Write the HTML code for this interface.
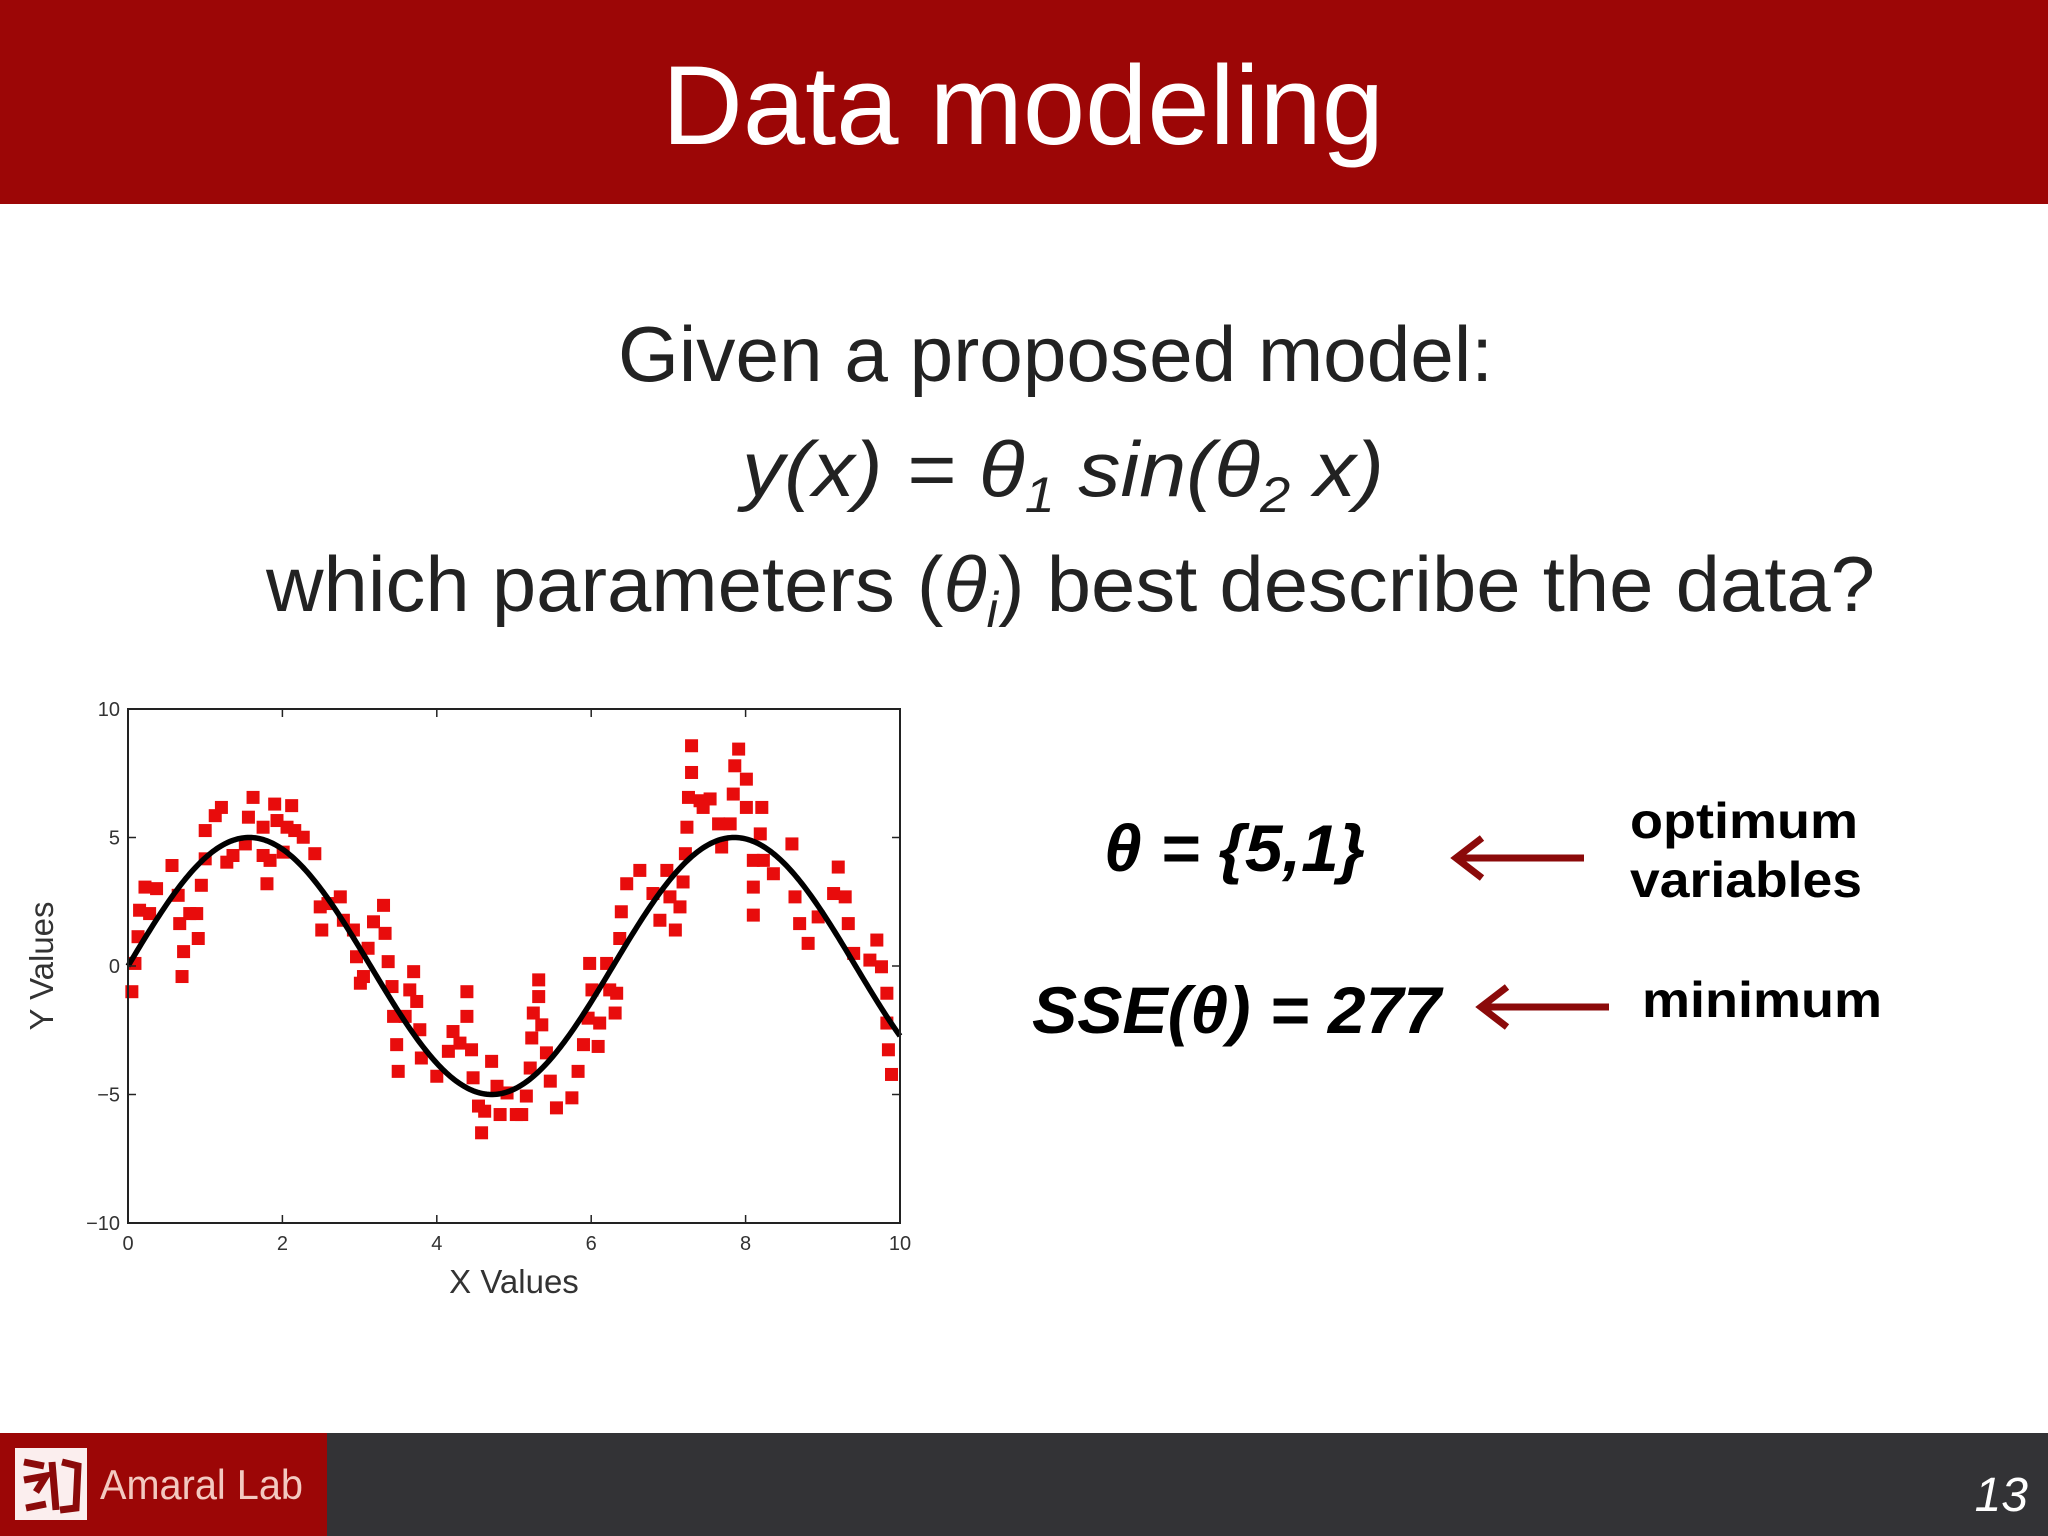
<!DOCTYPE html>
<html><head><meta charset="utf-8"><style>
html,body{margin:0;padding:0;background:#fff;}
svg{display:block;}
</style></head><body>
<svg id="slide" width="2048" height="1536" viewBox="0 0 2048 1536" xmlns="http://www.w3.org/2000/svg" font-family="'Liberation Sans', 'DejaVu Sans', sans-serif">
  <rect x="0" y="0" width="2048" height="1536" fill="#ffffff"/>
  <rect x="0" y="0" width="2048" height="204" fill="#9c0606"/>
  <text x="1023" y="144" text-anchor="middle" font-size="112" fill="#ffffff" textLength="722" lengthAdjust="spacingAndGlyphs">Data modeling</text>

  <text x="618" y="381" font-size="78" fill="#222" textLength="875" lengthAdjust="spacingAndGlyphs">Given a proposed model:</text>
  <text x="742" y="496" font-size="78" fill="#222" font-style="italic" textLength="642" lengthAdjust="spacingAndGlyphs">y(x) = θ<tspan font-size="50" dy="16">1</tspan><tspan dy="-16"> sin(θ</tspan><tspan font-size="50" dy="16">2</tspan><tspan dy="-16"> x)</tspan></text>
  <text x="266" y="611" font-size="78" fill="#222" textLength="1609" lengthAdjust="spacingAndGlyphs">which parameters (<tspan font-style="italic">θ</tspan><tspan font-style="italic" font-size="50" dy="16">i</tspan><tspan dy="-16">) best describe the data?</tspan></text>

  <text x="1104" y="871" font-size="66" font-weight="bold" font-style="italic" fill="#000" textLength="261" lengthAdjust="spacingAndGlyphs">θ = {5,1}</text>
  <g>
    <line x1="1458" y1="858" x2="1584" y2="858" stroke="#8b0a0a" stroke-width="7"/>
    <polyline points="1482,838 1456,858 1482,878" fill="none" stroke="#8b0a0a" stroke-width="7"/>
  </g>
  <text x="1630" y="838" font-size="50" font-weight="bold" fill="#000" textLength="228" lengthAdjust="spacingAndGlyphs">optimum</text>
  <text x="1630" y="897" font-size="50" font-weight="bold" fill="#000" textLength="232" lengthAdjust="spacingAndGlyphs">variables</text>

  <text x="1032" y="1033" font-size="66" font-weight="bold" font-style="italic" fill="#000" textLength="409" lengthAdjust="spacingAndGlyphs">SSE(θ) = 277</text>
  <g>
    <line x1="1483" y1="1007" x2="1609" y2="1007" stroke="#8b0a0a" stroke-width="7"/>
    <polyline points="1507,987 1481,1007 1507,1027" fill="none" stroke="#8b0a0a" stroke-width="7"/>
  </g>
  <text x="1642" y="1017" font-size="50" font-weight="bold" fill="#000" textLength="240" lengthAdjust="spacingAndGlyphs">minimum</text>

  <g id="chart"></g>

  <rect x="0" y="1433" width="2048" height="103" fill="#333336"/>
  <rect x="0" y="1433" width="327" height="103" fill="#9c0606"/>
  <g>
    <rect x="15" y="1448" width="72" height="72" fill="#fbeeee"/>
    <path d="M24 1462 L44 1466 M24 1480 L46 1476 L36 1492 M26 1508 L46 1504 M52 1462 L56 1510 M62 1462 L78 1466 L76 1508 L60 1510" stroke="#8b0a0a" stroke-width="7" fill="none"/>
  </g>
  <text x="100" y="1499" font-size="42" fill="#f3c9c0" textLength="203" lengthAdjust="spacingAndGlyphs">Amaral Lab</text>
  <text x="2028" y="1511" text-anchor="end" font-size="48" font-style="italic" fill="#ffffff">13</text>
</svg>
<script>
const xData = [0.05,0.09,0.13,0.15,0.22,0.28,0.37,0.57,0.65,0.67,0.72,0.70,0.80,0.89,0.91,0.95,1.00,1.00,1.13,1.21,1.28,1.36,1.52,1.56,1.62,1.75,1.75,1.80,1.84,1.90,1.93,2.01,2.06,2.12,2.16,2.27,2.42,2.49,2.51,2.59,2.75,2.79,2.92,2.96,3.01,3.05,3.11,3.18,3.31,3.33,3.37,3.42,3.44,3.48,3.50,3.59,3.65,3.70,3.74,3.78,3.80,4.00,4.15,4.21,4.30,4.39,4.39,4.45,4.47,4.54,4.58,4.62,4.71,4.78,4.82,4.91,5.03,
5.10,5.16,5.21,5.23,5.25,5.32,5.32,5.36,5.42,5.47,5.55,5.75,5.83,5.90,5.96,5.98,6.01,6.09,6.11,6.20,6.24,6.31,6.33,6.37,6.39,6.46,6.63,6.80,6.89,6.98,7.02,7.09,7.15,7.19,7.22,7.24,7.26,7.30,7.30,7.41,7.45,7.54,7.65,7.69,7.80,7.84,7.86,7.91,8.01,8.01,8.10,8.10,8.10,8.19,8.21,8.23,8.36,8.60,8.64,8.70,8.81,8.94,9.14,9.20,9.29,9.33,9.40,9.61,9.70,9.76,9.83,9.83,9.85,9.89];
const yData = [-1.0,0.1,1.14,2.17,3.07,2.04,3.01,3.91,2.75,1.65,0.56,-0.41,2.04,2.04,1.07,3.14,5.27,4.17,5.85,6.17,4.04,4.30,4.75,5.79,6.56,5.40,4.30,3.20,4.11,6.30,5.66,4.43,5.40,6.24,5.27,5.01,4.37,2.30,1.40,2.43,2.69,1.78,1.40,0.36,-0.67,-0.41,0.69,1.72,2.36,1.27,0.17,-0.80,-1.96,-3.06,-4.10,-1.96,-0.93,-0.22,-1.38,-2.48,-3.58,-4.29,-3.32,-2.55,-3.00,-1.00,-1.96,-3.26,-4.35,-5.45,-6.49,-5.65,-3.71,-4.68,-5.78,-4.94,-5.78,
-5.78,-5.06,-3.97,-2.80,-1.83,-0.54,-1.19,-2.29,-3.38,-4.48,-5.52,-5.13,-4.10,-3.06,-2.03,0.10,-0.93,-3.13,-2.22,0.10,-0.93,-1.83,-1.06,1.07,2.11,3.20,3.72,2.82,1.78,3.72,2.69,1.40,2.30,3.27,4.37,5.40,6.56,7.53,8.57,6.43,6.17,6.50,5.53,4.63,5.53,6.69,7.79,8.44,7.27,6.17,4.11,3.07,1.98,5.14,6.17,4.11,3.59,4.75,2.69,1.65,0.88,1.91,2.82,3.85,2.69,1.65,0.49,0.23,1.01,-0.03,-1.06,-2.22,-3.26,-4.22];
const theta = [5, 1];
const xTicks = [0,2,4,6,8,10];
const yTicks = [-10,-5,0,5,10];
const xTickLabels = ["0","2","4","6","8","10"];
const yTickLabels = ["\u221210","\u22125","0","5","10"];

const NS = "http://www.w3.org/2000/svg";
const L = 128, R = 900, T = 709, B = 1223;
const xMin = 0, xMax = 10, yMin = -10, yMax = 10;
function sx(v){ return L + (v - xMin) / (xMax - xMin) * (R - L); }
function sy(v){ return B - (v - yMin) / (yMax - yMin) * (B - T); }
function mk(tag, attrs){ const e = document.createElementNS(NS, tag); for (const k in attrs) e.setAttribute(k, attrs[k]); return e; }
const chart = document.getElementById('chart');

const plotBg = mk('rect', {x:L, y:T, width:R-L, height:B-T, fill:'#fff'});


chart.appendChild(plotBg);

const pts = mk('g', {});


chart.appendChild(pts);
for (let i = 0; i < xData.length; i++) {
  const s = 13;
  const r = mk('rect', {x: sx(xData[i]) - s/2, y: sy(yData[i]) - s/2, width: s, height: s, fill: '#e80c0c'});
  
  
  pts.appendChild(r);
}

let d = '';
for (let i = 0; i <= 400; i++) {
  const x = xMin + (xMax - xMin) * i / 400;
  const y = theta[0] * Math.sin(theta[1] * x);
  d += (i ? 'L' : 'M') + sx(x).toFixed(2) + ' ' + sy(y).toFixed(2);
}
const fit = mk('path', {d: d, fill: 'none', stroke: '#000', 'stroke-width': 5.5});


chart.appendChild(fit);

const frame = mk('rect', {x:L, y:T, width:R-L, height:B-T, fill:'none', stroke:'#222', 'stroke-width':2});


chart.appendChild(frame);

xTicks.forEach((v, i) => {
  const x = sx(v);
  const t1 = mk('line', {x1:x, y1:B, x2:x, y2:B-8, stroke:'#222', 'stroke-width':1.5});
  
  
  chart.appendChild(t1);
  const t2 = mk('line', {x1:x, y1:T, x2:x, y2:T+8, stroke:'#222', 'stroke-width':1.5});
  
  
  chart.appendChild(t2);
  const lb = mk('text', {x:x, y:B+27, 'text-anchor':'middle', 'font-size':20, fill:'#333'});
  lb.textContent = xTickLabels[i];
  
  
  chart.appendChild(lb);
});
yTicks.forEach((v, i) => {
  const y = sy(v);
  const t1 = mk('line', {x1:L, y1:y, x2:L+8, y2:y, stroke:'#222', 'stroke-width':1.5});
  
  
  chart.appendChild(t1);
  const t2 = mk('line', {x1:R, y1:y, x2:R-8, y2:y, stroke:'#222', 'stroke-width':1.5});
  
  
  chart.appendChild(t2);
  const lb = mk('text', {x:L-8, y:y+7, 'text-anchor':'end', 'font-size':20, fill:'#333'});
  lb.textContent = yTickLabels[i];
  
  
  chart.appendChild(lb);
});
const xt = mk('text', {x:(L+R)/2, y:1293, 'text-anchor':'middle', 'font-size':33, fill:'#333'});
xt.textContent = 'X Values';


chart.appendChild(xt);
const yt = mk('text', {x:0, y:0, 'text-anchor':'middle', 'font-size':33, fill:'#333', transform:'translate(53,966) rotate(-90)'});
yt.textContent = 'Y Values';


chart.appendChild(yt);
</script>
</body></html>
